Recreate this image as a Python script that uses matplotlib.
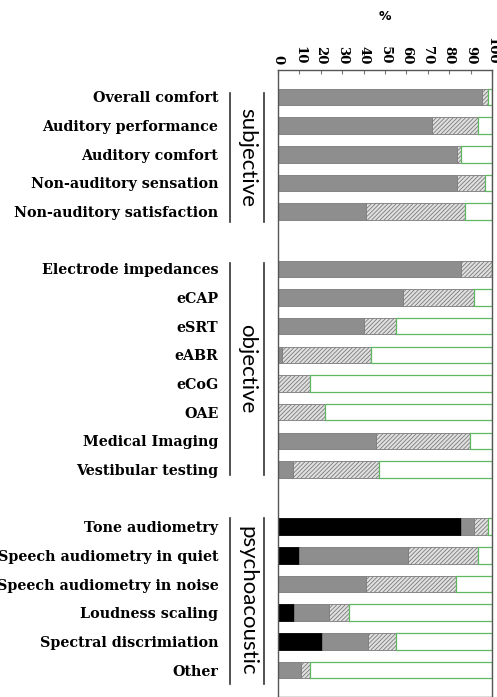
import matplotlib.pyplot as plt
import matplotlib.transforms as mtransforms
from matplotlib.lines import Line2D

plt.rcParams['hatch.color'] = '#777777'
plt.rcParams['hatch.linewidth'] = 0.6

labels = ['Overall comfort', 'Auditory performance', 'Auditory comfort',
          'Non-auditory sensation', 'Non-auditory satisfaction',
          'Electrode impedances', 'eCAP', 'eSRT', 'eABR', 'eCoG', 'OAE',
          'Medical Imaging', 'Vestibular testing',
          'Tone audiometry', 'Speech audiometry in quiet',
          'Speech audiometry in noise', 'Loudness scaling',
          'Spectral discrimiation', 'Other']

# widths of each stacked segment, in %
black = [0, 0, 0, 0, 0,
         0, 0, 0, 0, 0, 0, 0, 0,
         85.3, 9.8, 0, 7.6, 20.7, 0]
grey = [95.3, 72.1, 83.5, 83.5, 41.0,
        85.7, 58.6, 40.0, 2.0, 0, 0, 45.9, 7.2,
        6.3, 50.8, 41.0, 16.2, 21.3, 10.9]
hatched = [3.0, 21.4, 2.2, 13.1, 46.2,
           14.3, 32.8, 15.3, 41.3, 15.1, 22.0, 43.8, 40.1,
           6.7, 32.9, 42.2, 9.4, 13.1, 4.2]
rest = [1.7, 6.5, 14.3, 3.4, 12.8,
        0, 8.6, 44.7, 56.7, 84.9, 78.0, 10.3, 52.7,
        1.7, 6.5, 16.8, 66.8, 44.9, 84.9]

groups = ['subjective', 'objective', 'psychoacoustic']
group_sizes = [5, 8, 6]

# row positions, with an empty slot between groups
pos = []
y = 0
for n in group_sizes:
    pos += list(range(y, y + n))
    y += n + 1

fig = plt.figure(figsize=(4.97, 6.97), dpi=100)
ax = fig.add_axes([278 / 497, 0.0, 214 / 497, 627 / 697])

h = 0.58
left = [0] * len(pos)
ax.barh(pos, black, height=h, left=left, color='black', edgecolor='black', linewidth=0.6)
left = [a + b for a, b in zip(left, black)]
ax.barh(pos, grey, height=h, left=left, color='#8e8e8e', edgecolor='#7a7a7a', linewidth=0.6)
left = [a + b for a, b in zip(left, grey)]
ax.barh(pos, hatched, height=h, left=left, color='#e0e0e0', edgecolor='#7a7a7a',
        hatch='////////', linewidth=0.6)
left = [a + b for a, b in zip(left, hatched)]
ax.barh(pos, rest, height=h, left=left, color='white', edgecolor='#5fb85f', linewidth=0.9)

ax.set_xlim(0, 100)
ax.set_ylim(20.94, -0.94)
ax.set_xticks(range(0, 101, 10))
ax.xaxis.tick_top()
ax.xaxis.set_label_position('top')
ax.tick_params(axis='x', direction='in', length=3, pad=4, color='#777777')
for t in ax.get_xticklabels():
    t.set_rotation(-90)
    t.set_family('DejaVu Serif')
    t.set_fontweight('bold')
    t.set_fontsize(9.5)
ax.set_xlabel('%', fontsize=9, fontweight='bold', labelpad=12)

ax.set_yticks(pos)
ax.set_yticklabels(labels, family='DejaVu Serif', fontweight='bold', fontsize=10.3)
ax.tick_params(axis='y', length=0, pad=43)

for s in ax.spines.values():
    s.set_color('#555555')
    s.set_linewidth(1.0)

# group brackets on the left of the bars
trans = mtransforms.blended_transform_factory(fig.transFigure, ax.transData)
spans = [(-0.15, 4.35), (5.8, 13.2), (14.7, 20.5)]
for name, (y0, y1) in zip(groups, spans):
    for xf in (230 / 497, 264 / 497):
        fig.add_artist(Line2D([xf, xf], [y0, y1], transform=trans,
                              color='#333333', linewidth=1.2))
    fig.text(247 / 497, (y0 + y1) / 2, name, transform=trans, rotation=-90,
             ha='center', va='center', family='Lato', fontsize=16)

fig.savefig('out.png', dpi=100)
